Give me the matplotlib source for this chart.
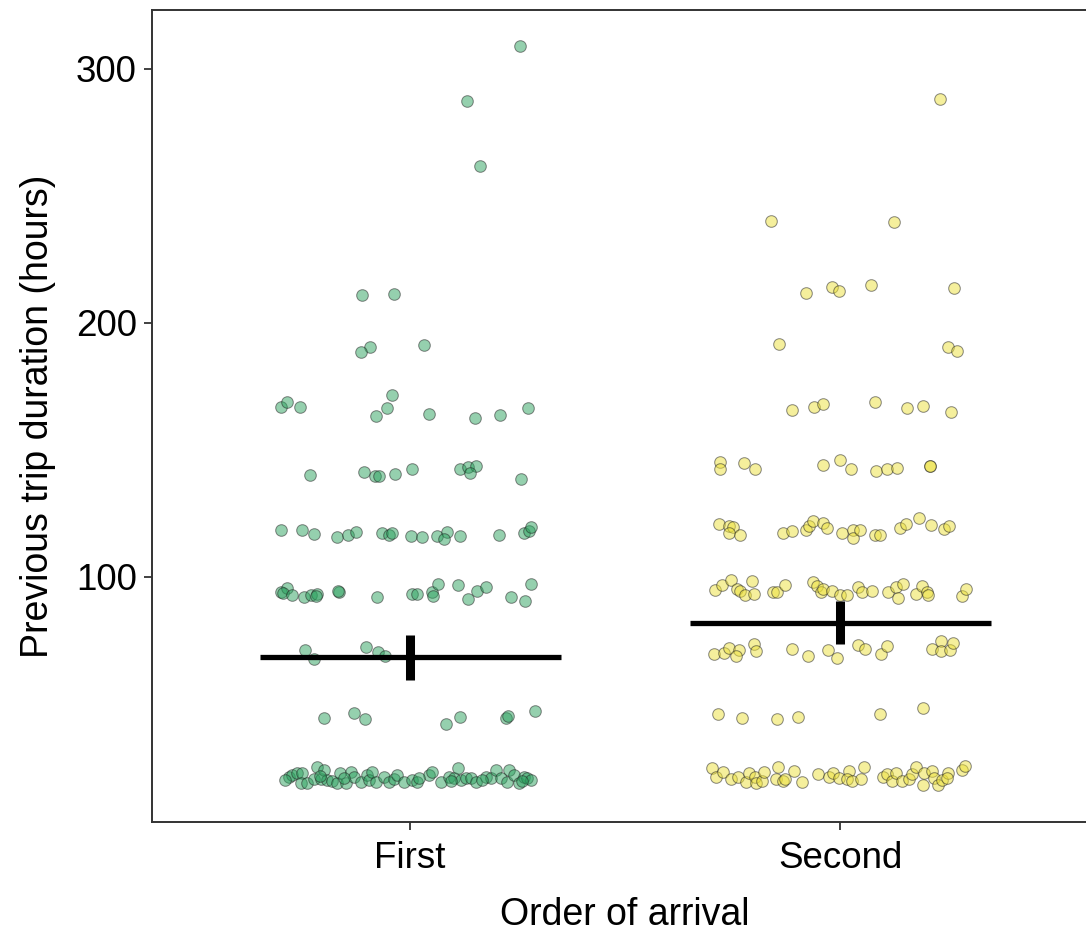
import matplotlib
matplotlib.use('Agg')
import matplotlib.pyplot as plt

# --- DATA ---
groups = ["First", "Second"]

# x jitter offset (from category centre) and previous trip duration (hours)
first_off = [
    0.256, 0.133, 0.163, -0.112, -0.037, 0.033, -0.093, -0.114,
    -0.300, -0.286, -0.256, -0.079, -0.053, -0.042, 0.044, 0.151, 0.209, 0.274,
    -0.233, -0.107, -0.081, -0.072, -0.035, 0.005, 0.116, 0.135, 0.153, 0.140, 0.258,
    -0.300, -0.251, -0.223, -0.170, -0.144, -0.126, -0.065, -0.049, -0.042, 0.002,
    0.028, 0.063, 0.086, 0.079, 0.116, 0.207, 0.265, 0.277, 0.281,
    -0.300, -0.286, -0.295, -0.274, -0.247, -0.230, -0.216, -0.219, -0.165, -0.167,
    -0.077, 0.005, 0.016, 0.051, 0.053, 0.065, 0.112, 0.135, 0.156, 0.177, 0.235,
    0.267, 0.281,
    -0.244, -0.223, -0.102, -0.074, -0.058,
    -0.200, -0.130, -0.105, 0.084, 0.116, 0.223, 0.228, 0.291,
    -0.281, -0.274, -0.263, -0.251, -0.253, -0.240, -0.223, -0.216, -0.207, -0.200,
    -0.193, -0.181, -0.170, -0.163, -0.149, -0.137, -0.130, -0.114, -0.100, -0.095,
    -0.088, -0.079, -0.060, -0.049, -0.037, -0.030, -0.014, 0.005, 0.016, 0.044,
    0.051, 0.072, 0.091, 0.102, 0.112, 0.119, 0.130, 0.142, 0.153, 0.177, 0.188,
    0.200, 0.212, 0.226, 0.230, 0.242, 0.253, 0.265, 0.272, 0.281,
    -0.291, -0.153, 0.021, 0.167, 0.260, -0.210, 0.095,
]
first_val = [
    309.1, 287.4, 261.8, 211.0, 211.4, 191.3, 190.6, 188.6,
    166.9, 168.9, 166.9, 163.4, 166.5, 171.7, 164.2, 162.6, 163.8, 166.5,
    140.2, 141.3, 139.8, 139.8, 140.6, 142.5, 142.5, 143.3, 143.7, 140.9, 138.6,
    118.5, 118.5, 116.9, 115.7, 116.5, 117.7, 117.3, 116.5, 117.3, 116.1,
    115.7, 116.1, 117.7, 115.0, 116.1, 116.5, 117.3, 118.1, 119.7,
    94.1, 95.7, 93.7, 92.9, 92.1, 92.9, 93.3, 92.5, 94.1, 94.5,
    92.1, 93.3, 93.3, 94.1, 92.5, 97.2, 96.9, 91.3, 94.5, 96.1, 92.1,
    90.6, 97.2,
    71.3, 67.7, 72.4, 70.5, 68.9,
    44.5, 46.5, 44.1, 42.1, 44.9, 44.5, 45.3, 47.2,
    21.3, 22.0, 22.8, 22.8, 18.9, 18.9, 20.5, 25.2, 20.5, 24.0,
    20.1, 19.7, 18.9, 22.8, 18.9, 23.2, 21.3, 19.3, 22.0, 20.1,
    23.2, 19.3, 21.3, 19.3, 20.5, 22.0, 19.3, 20.1, 19.3, 22.0,
    23.2, 19.3, 21.3, 20.9, 24.8, 20.1, 20.9, 20.9, 19.3, 21.3, 20.9,
    24.0, 20.9, 19.3, 24.0, 22.0, 18.9, 21.3, 20.9, 20.1,
    20.1, 20.9, 20.9, 20.1, 19.7, 21.7, 19.7,
]

second_off = [
    0.233, -0.160, 0.126, -0.079, -0.019, -0.002, 0.072, 0.265, -0.142, 0.251, 0.272,
    -0.112, -0.060, -0.040, 0.081, 0.156, 0.193, 0.258,
    -0.279, -0.279, -0.223, -0.198, -0.040, 0.000, 0.026, 0.084, 0.109, 0.133, 0.209, 0.209,
    -0.281, -0.258, -0.249, -0.258, -0.233, -0.133, -0.112, -0.079, -0.072, -0.063,
    -0.040, -0.030, 0.005, 0.030, 0.030, 0.047, 0.081, 0.093, 0.140, 0.153, 0.184,
    0.212, 0.242, 0.253,
    -0.291, -0.274, -0.253, -0.240, -0.233, -0.221, -0.200, -0.205, -0.156, -0.147,
    -0.128, -0.063, -0.053, -0.044, -0.040, -0.019, 0.000, 0.016, 0.042, 0.051,
    0.074, 0.112, 0.130, 0.147, 0.135, 0.177, 0.191, 0.202, 0.205, 0.284, 0.293,
    -0.293, -0.270, -0.258, -0.235, -0.242, -0.200, -0.195, -0.112, -0.074, -0.028,
    -0.007, 0.042, 0.058, 0.095, 0.109, 0.214, 0.235, 0.235, 0.256, 0.263,
    -0.284, -0.228, -0.147, -0.098, 0.093, 0.193,
    -0.298, -0.288, -0.272, -0.253, -0.237, -0.219, -0.212, -0.198, -0.195, -0.181,
    -0.177, -0.149, -0.144, -0.133, -0.128, -0.107, -0.088, -0.051, -0.026, -0.016,
    -0.002, 0.021, 0.016, 0.028, 0.049, 0.056, 0.100, 0.109, 0.121, 0.130,
    0.144, 0.160, 0.167, 0.177, 0.195, 0.193, 0.214, 0.219, 0.228, 0.237,
    0.251, 0.249, 0.284, 0.291,
]
second_val = [
    288.2, 240.2, 239.8, 211.8, 214.2, 212.6, 215.0, 213.8, 191.7, 190.6, 189.0,
    165.7, 166.9, 168.1, 168.9, 166.5, 167.3, 165.0,
    145.3, 142.5, 144.9, 142.5, 144.1, 146.1, 142.5, 141.7, 142.5, 142.9, 143.7, 143.7,
    120.9, 120.1, 119.7, 117.3, 116.5, 117.3, 118.1, 118.5, 120.1, 122.0,
    121.3, 119.3, 117.3, 118.5, 115.4, 118.5, 116.5, 116.5, 119.3, 120.9, 123.2,
    120.5, 118.9, 120.1,
    94.9, 96.9, 98.8, 95.3, 94.5, 92.9, 93.3, 98.4, 94.1, 94.1,
    96.9, 98.0, 96.5, 94.1, 95.3, 94.5, 92.9, 92.9, 96.1, 94.1,
    94.5, 94.1, 96.1, 97.2, 91.7, 93.3, 96.5, 94.1, 92.9, 92.5, 95.3,
    69.7, 70.1, 72.0, 71.3, 68.9, 73.6, 70.9, 71.7, 68.9, 71.3,
    68.1, 73.2, 71.7, 69.7, 72.8, 71.7, 74.8, 70.9, 71.3, 74.0,
    46.1, 44.5, 44.1, 44.9, 46.1, 48.4,
    24.8, 21.3, 23.2, 20.5, 21.3, 19.3, 22.8, 21.3, 18.9, 19.7,
    23.2, 20.5, 25.2, 19.7, 20.5, 23.6, 19.3, 22.4, 21.3, 22.8,
    20.9, 23.6, 20.5, 19.7, 20.5, 25.2, 21.3, 22.4, 19.7, 22.8,
    19.7, 20.5, 22.4, 25.2, 22.8, 18.1, 23.6, 20.9, 18.1, 20.1,
    22.8, 20.9, 24.0, 25.6,
]

# group means with error bar limits (hours)
means = [68.5, 81.9]
err_low = [59.4, 73.6]
err_high = [77.2, 90.6]

colors = ["#2ca25f", "#ece03a"]
FONT = "Liberation Sans"

fig = plt.figure(figsize=(10.86, 9.34), dpi=100)
ax = fig.add_axes([152 / 1086, 1 - 822 / 934, 946 / 1086, 812 / 934])

for i, (offs, vals) in enumerate([(first_off, first_val), (second_off, second_val)]):
    xs = [i + 1 + o for o in offs]
    ax.scatter(xs, vals, s=70, color=colors[i], edgecolors="#202020",
               linewidths=0.75, alpha=0.5, zorder=2)

# mean line and error bar per group
for i in range(len(groups)):
    ax.hlines(means[i], i + 1 - 0.35, i + 1 + 0.35, color="black", linewidth=3.8, zorder=3)
    ax.vlines(i + 1, err_low[i], err_high[i], color="black", linewidth=6.5, zorder=3)

ax.set_xlim(0.4, 2.6)
ax.set_ylim(3.5, 323.2)
ax.set_xticks([1, 2])
ax.set_xticklabels(groups)
ax.set_yticks([100, 200, 300])

for sp in ax.spines.values():
    sp.set_color("#333333")
    sp.set_linewidth(1.4)

ax.tick_params(axis="both", length=6, width=1.3, color="#333333",
               labelsize=26.5, labelcolor="black", pad=5)
ax.tick_params(axis="x", pad=8)
for lab in ax.get_xticklabels() + ax.get_yticklabels():
    lab.set_fontfamily(FONT)

ax.set_xlabel("Order of arrival", fontsize=27, fontfamily=FONT, labelpad=15)
ax.set_ylabel("Previous trip duration (hours)", fontsize=27, fontfamily=FONT, labelpad=14)

plt.savefig("out.png", dpi=100)
